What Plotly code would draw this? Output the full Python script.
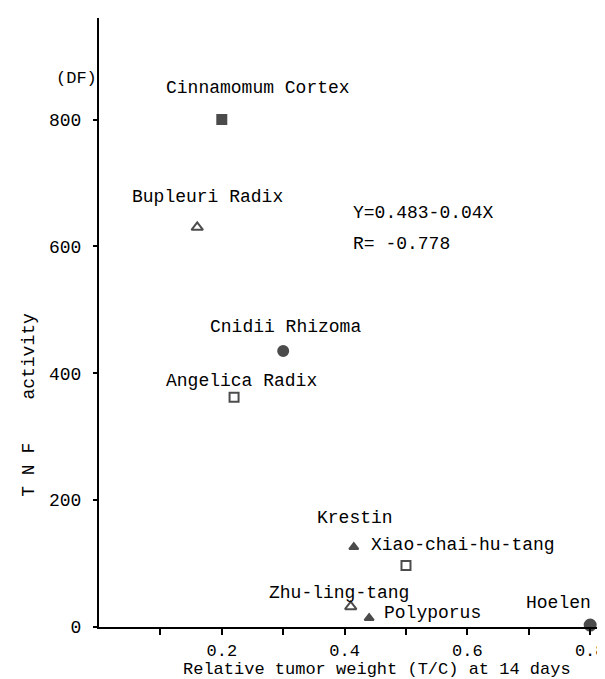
import plotly.graph_objects as go

# ---- data ----
names = ["Cinnamomum Cortex", "Bupleuri Radix", "Cnidii Rhizoma", "Angelica Radix",
         "Krestin", "Xiao-chai-hu-tang", "Zhu-ling-tang", "Polyporus", "Hoelen"]
tumor_weight = [0.20, 0.16, 0.30, 0.22, 0.415, 0.50, 0.41, 0.44, 0.80]
tnf_activity = [800, 630, 435, 362, 126, 97, 32, 14, 3]
x_tick_vals = [0.1, 0.2, 0.3, 0.4, 0.5, 0.6, 0.7, 0.8]
x_tick_text = ["", "0.2", "", "0.4", "", "0.6", "", "0.8"]
y_tick_vals = [0, 200, 400, 600, 800]
y_tick_text = ["0", "200", "400", "600", "800"]
equation_lines = ["Y=0.483-0.04X", "R= -0.778"]

# ---- styling ----
symbols = ["square", "triangle-up-open", "circle", "square-open", "triangle-up",
           "square-open", "triangle-up-open", "triangle-up", "circle"]
sizes = [9, 10, 10, 9, 8, 9, 10, 8, 11]
# label offsets in px (dx right, dy down) and anchors
label_style = [
    (36, -32, "center"),
    (10, -30, "center"),
    (2, -24, "center"),
    (7, -16, "center"),
    (1, -29, "center"),
    (-37, -20, "left"),
    (-12, -14, "center"),
    (13, -5, "left"),
    (-32, -22, "center"),
]

FONT = "Courier New, Liberation Mono, monospace"

fig = go.Figure()
fig.add_trace(go.Scatter(
    x=tumor_weight, y=tnf_activity, mode="markers", cliponaxis=False,
    marker=dict(symbol=symbols, size=sizes, color="black",
                line=dict(color="black", width=2)),
    showlegend=False, hoverinfo="text", text=names,
))

annotations = []
for nm, xv, yv, (dx, dy, anc) in zip(names, tumor_weight, tnf_activity, label_style):
    annotations.append(dict(
        x=xv, y=yv, xref="x", yref="y", text=nm, showarrow=False,
        xshift=dx, yshift=-dy, xanchor=anc, yanchor="middle",
        font=dict(family=FONT, size=18, color="black"),
    ))

eq_y = [652, 603]
for line, yy in zip(equation_lines, eq_y):
    annotations.append(dict(
        x=0.41, y=yy, xref="x", yref="y", text=line, showarrow=False,
        xanchor="left", yanchor="middle",
        font=dict(family=FONT, size=18, color="black"),
    ))

annotations.append(dict(
    x=-0.045, y=865, xref="paper", yref="y", text="(DF)", showarrow=False,
    xanchor="center", yanchor="middle", font=dict(family=FONT, size=17, color="black"),
))
annotations.append(dict(
    x=-0.14, y=350, xref="paper", yref="y", text="T N F    activity", showarrow=False,
    textangle=-90, xanchor="center", yanchor="middle",
    font=dict(family=FONT, size=18, color="black"),
))
annotations.append(dict(
    x=0.453, y=-0.069, xref="x", yref="paper", text="Relative tumor weight (T/C) at 14 days",
    showarrow=False, xanchor="center", yanchor="middle", borderpad=0,
    font=dict(family=FONT, size=17, color="black"),
))

fig.update_layout(
    width=605, height=679,
    margin=dict(l=91, r=8, t=10, b=60),
    paper_bgcolor="white", plot_bgcolor="white",
    font=dict(family=FONT, size=18, color="black"),
    annotations=annotations,
    xaxis=dict(range=[0, 0.816], tickmode="array", tickvals=x_tick_vals, ticktext=x_tick_text,
               showline=True, linecolor="black", linewidth=2, ticks="outside", ticklen=6,
               tickcolor="black", tickwidth=1.5, showgrid=False, zeroline=False,
               ticklabelstandoff=1, ticklabeloverflow="allow",
               tickfont=dict(family=FONT, size=17)),
    yaxis=dict(range=[0, 960], tickmode="array", tickvals=y_tick_vals, ticktext=y_tick_text,
               showline=True, linecolor="black", linewidth=2, ticks="outside", ticklen=4,
               tickcolor="black", tickwidth=1.5, showgrid=False, zeroline=False,
               ticklabelstandoff=8, tickfont=dict(family=FONT, size=18)),
)

fig.write_html("out.html")
